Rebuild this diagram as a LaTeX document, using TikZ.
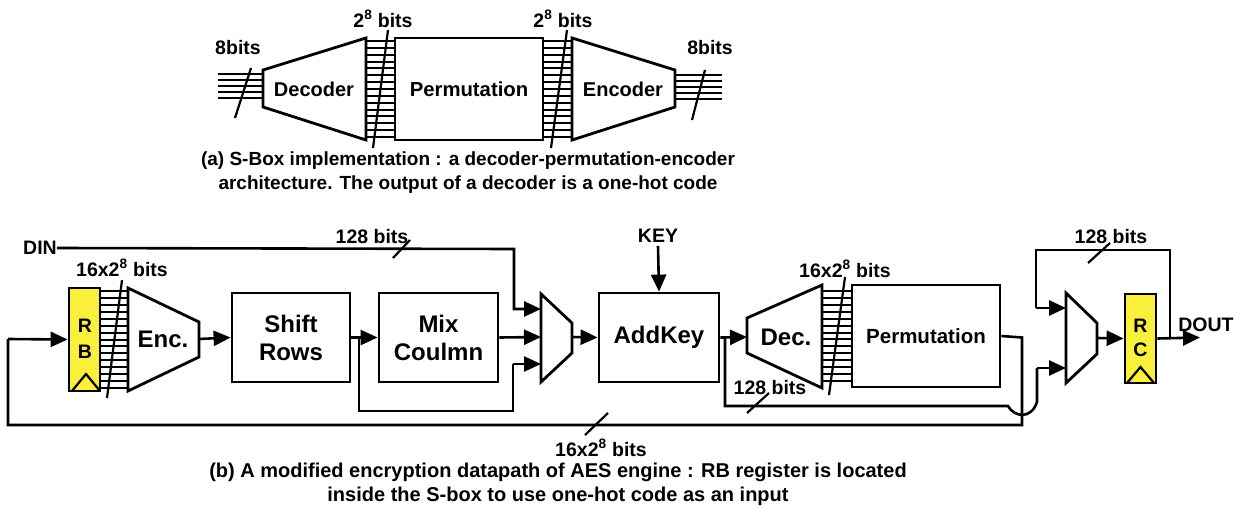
\documentclass[tikz,border=0pt]{standalone}
\usepackage{fontspec}
\setmainfont{Liberation Sans}
\usetikzlibrary{arrows.meta}
\definecolor{regyellow}{RGB}{250,240,60}
\begin{document}
\begin{tikzpicture}[x=1pt,y=-1pt,
  every node/.style={font=\bfseries},
  wire/.style={line width=2.6pt},
  bus/.style={line width=2pt},
  slash/.style={line width=2.2pt},
  arr/.style={line width=2.6pt,-{Triangle[length=17pt,width=15pt]}},
  blk/.style={draw,line width=2.8pt,inner sep=0pt,align=center,font=\bfseries\fontsize{24}{28}\selectfont},
  reg/.style={draw,line width=2.8pt,fill=regyellow,inner sep=0pt},
  lbl/.style={font=\bfseries\fontsize{19.5}{21}\selectfont,inner sep=0pt},
  shapeline/.style={line width=2.8pt,line join=miter}
]
\useasboundingbox (0,0) rectangle (1249,519);

% ================= (a) =================
\node[blk,minimum width=148pt,minimum height=102pt,font=\bfseries\fontsize{20.3}{24}\selectfont] (permA) at (469,89) {Permutation};
\draw[shapeline] (263,70) -- (366,38) -- (366,140) -- (263,107) -- cycle;
\node[font=\bfseries\fontsize{20}{24}\selectfont] (decA) at (314,89) {Decoder};
\draw[shapeline] (572,38) -- (675,70) -- (675,107) -- (572,140) -- cycle;
\node[font=\bfseries\fontsize{20}{24}\selectfont] (encA) at (623,89) {Encoder};
\foreach \i in {0,...,4} {
  \draw[bus] (218,{74+\i*6}) -- (263,{74+\i*6});
  \draw[bus] (675,{75+\i*6}) -- (722,{75+\i*6});
}
\foreach \i in {0,...,14} {
  \draw[bus] (366,{41+\i*6.86}) -- (395,{41+\i*6.86});
  \draw[bus] (543,{41+\i*6.86}) -- (572,{41+\i*6.86});
}
\draw[slash] (235,118) -- (251,68);
\draw[slash] (373,148) -- (388,30);
\draw[slash] (551,148) -- (567,30);
\draw[slash] (692,120) -- (705,70);
\node[lbl] (la1) at (238,48) {8bits};
\node[lbl] (la2) at (383,19) {2\textsuperscript{8} bits};
\node[lbl] (la3) at (563,19) {2\textsuperscript{8} bits};
\node[lbl] (la4) at (710,48) {8bits};
\node[font=\bfseries\fontsize{19}{24}\selectfont,inner sep=0pt,align=center] (capA) at (468,173) {(a) S-Box implementation : a decoder-permutation-encoder\\architecture. The output of a decoder is a one-hot code};

% ================= (b) =================
\node[reg,minimum width=31pt,minimum height=103pt] (RB) at (84.5,339.5) {};
\node[lbl] at (85,326) {R};
\node[lbl] at (85,352) {B};
\draw[line width=2.2pt] (72,391) -- (86,374) -- (100,391);
\foreach \i in {0,...,14} {
  \draw[bus] (100,{291+\i*6.93}) -- (128,{291+\i*6.93});
}
\draw[shapeline] (128,288) -- (199,322) -- (199,357) -- (128,391) -- cycle;
\node[font=\bfseries\fontsize{24}{26}\selectfont] (enc) at (163,339) {Enc.};
\coordinate (encout) at (199,339);
\draw[slash] (107,398) -- (122,280);
\node[lbl] (lb1) at (122,268) {16x2\textsuperscript{8} bits};

\node[blk,minimum width=118pt,minimum height=89pt] (shift) at (291,337.5) {Shift\\Rows};
\node[blk,minimum width=119pt,minimum height=89pt] (mix) at (438.5,337.5) {Mix\\Coulmn};
\node[blk,minimum width=120pt,minimum height=89pt] (addkey) at (659,337.5) {AddKey};

% mux 1
\draw[shapeline] (541,294) -- (572,323) -- (572,353) -- (541,382) -- cycle;
\coordinate (m1a) at (541,309);
\coordinate (m1b) at (541,337);
\coordinate (m1c) at (541,364);
\coordinate (m1o) at (572,337);

% Dec
\draw[shapeline] (747,318) -- (822,285) -- (822,388) -- (747,353) -- cycle;
\node[font=\bfseries\fontsize{24}{26}\selectfont] (dec) at (786,337) {Dec.};
\coordinate (decin) at (747,337);
\foreach \i in {0,...,13} {
  \draw[bus] (822,{291+\i*6.92}) -- (852,{291+\i*6.92});
}
\node[blk,minimum width=148pt,minimum height=102pt,font=\bfseries\fontsize{20.5}{24}\selectfont] (permB) at (926,336) {Permutation};
\draw[slash] (829,395) -- (845,277);
\node[lbl] (lb2) at (845,269) {16x2\textsuperscript{8} bits};

% mux 2
\draw[shapeline] (1066,293) -- (1097,323) -- (1097,354) -- (1066,383) -- cycle;
\coordinate (m2a) at (1066,308);
\coordinate (m2b) at (1066,368);
\coordinate (m2o) at (1097,338);

\node[reg,minimum width=31pt,minimum height=89pt] (RC) at (1140.5,338.5) {};
\node[lbl] at (1140.5,326) {R};
\node[lbl] at (1140.5,350) {C};
\draw[line width=2.2pt] (1127,383) -- (1140.5,367) -- (1154,383);

% labels
\node[lbl] (din) at (40,248) {DIN};
\node[lbl] (key) at (658,236) {KEY};
\node[lbl] (dout) at (1206,325) {DOUT};
\coordinate (doutend) at (1200,337.5);

% connectors
\draw[arr] (din.east) -- (514,249) -- (514,309) -- (m1a);
\draw[arr] (mix.east) -- (m1b);
\draw[arr] (shift.east) -- (mix.west);
\draw[wire] (359,337.5) -- (359,411) -- (513,411) -- (513,364);
\draw[arr] (513,364) -- (m1c);
\draw[arr] (encout) -- (shift.west);
\draw[arr] (m1o) -- (addkey.west);
\draw[arr] (key.south) ++(0,3) -- (addkey.north);
\draw[arr] (addkey.east) -- (decin);
\draw[wire] (725,337.5) -- (725,406) -- (1008,406) .. controls (1014,417) and (1031,420) .. (1037,402) -- (1037,368);
\draw[arr] (1037,368) -- (m2b);
\draw[wire] (permB.east) -- (1022,337.5) -- (1022,425) -- (8,425) -- (8,339);
\draw[arr] (8,339) -- (RB.west);
\draw[arr] (m2o) -- (RC.west);
\draw[arr] (RC.east) -- (doutend);
\draw[wire] (1170,337.5) -- (1170,250) -- (1036,250) -- (1036,308);
\draw[arr] (1036,308) -- (m2a);

% bus slashes (b)
\draw[slash] (393,258) -- (410,240);
\node[lbl] (lb3) at (372,237) {128 bits};
\draw[slash] (747,413) -- (769,393);
\node[lbl] (lb4) at (770,388) {128 bits};
\draw[slash] (1088,263) -- (1110,243);
\node[lbl] (lb5) at (1111,237) {128 bits};
\draw[slash] (585,435) -- (608,413);
\node[lbl] (lb6) at (601,448) {16x2\textsuperscript{8} bits};

\node[font=\bfseries\fontsize{20}{24}\selectfont,inner sep=0pt,align=center] (capB) at (558,484) {(b) A modified encryption datapath of AES engine : RB register is located\\inside the S-box to use one-hot code as an input};
\end{tikzpicture}
\end{document}
